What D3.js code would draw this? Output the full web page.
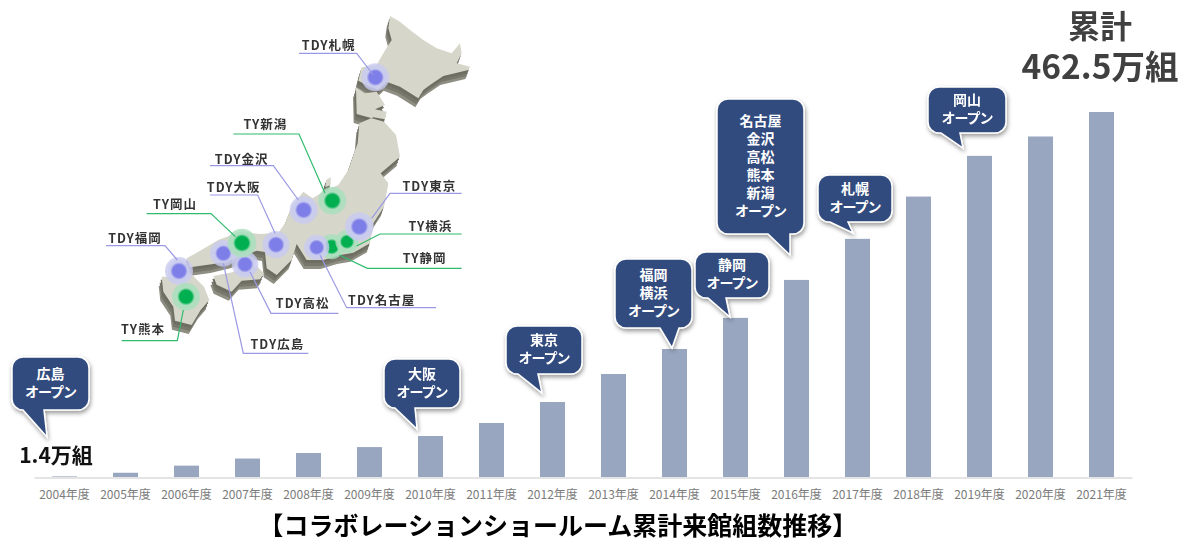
<!DOCTYPE html>
<html lang="ja">
<head>
<meta charset="utf-8">
<title>コラボレーションショールーム累計来館組数推移</title>
<script src="https://cdn.jsdelivr.net/npm/d3@7/dist/d3.min.js"></script>
<style>
    html, body { margin: 0; padding: 0; background: #fff; }
    svg { display: block; }
    text { font-family: "Noto Sans CJK JP", "Noto Sans", sans-serif; }
</style>
</head>
<body>
<svg id="chart" width="1186" height="539"></svg>
<script>
/* global d3 : false
 */

const years = ["2004年度", "2005年度", "2006年度", "2007年度", "2008年度", "2009年度", "2010年度", "2011年度", "2012年度",
    "2013年度", "2014年度", "2015年度", "2016年度", "2017年度", "2018年度", "2019年度", "2020年度", "2021年度"];
// cumulative visits, 万組
const visits = [1.4, 6, 15, 24, 31, 38.5, 52.5, 69, 95.5, 131, 162.6, 202, 250, 302, 355.5, 407, 431.5, 462.5];

const openings = [
    { year: "2004年度", lines: ["広島", "オープン"] },
    { year: "2010年度", lines: ["大阪", "オープン"] },
    { year: "2012年度", lines: ["東京", "オープン"] },
    { year: "2014年度", lines: ["福岡", "横浜", "オープン"] },
    { year: "2015年度", lines: ["静岡", "オープン"] },
    { year: "2016年度", lines: ["名古屋", "金沢", "高松", "熊本", "新潟", "オープン"] },
    { year: "2017年度", lines: ["札幌", "オープン"] },
    { year: "2019年度", lines: ["岡山", "オープン"] }
];

const stores = [
    { name: "TDY福岡", brand: "TDY" }, { name: "TY熊本", brand: "TY" }, { name: "TDY広島", brand: "TDY" },
    { name: "TDY高松", brand: "TDY" }, { name: "TY岡山", brand: "TY" }, { name: "TDY大阪", brand: "TDY" },
    { name: "TDY金沢", brand: "TDY" }, { name: "TY新潟", brand: "TY" }, { name: "TY静岡", brand: "TY" },
    { name: "TDY名古屋", brand: "TDY" }, { name: "TY横浜", brand: "TY" }, { name: "TDY東京", brand: "TDY" },
    { name: "TDY札幌", brand: "TDY" }
];

// callout boxes: box corners, tail base x's, tip
const calloutLayout = [
    { box: [12, 357, 89, 410], tail: [23, 44], tip: [47, 437] },
    { box: [384, 359, 460, 408], tail: [395, 415], tip: [417, 429] },
    { box: [506, 326, 582, 374], tail: [518, 538], tip: [542, 393] },
    { box: [615, 259, 692, 328], tail: [660, 679], tip: [672, 348] },
    { box: [695, 252, 769, 298], tail: [708, 726], tip: [730, 317] },
    { box: [717, 99, 804, 234], tail: [768, 790], tip: [790, 255] },
    { box: [818, 175, 892, 222], tail: [830, 848], tip: [853, 233] },
    { box: [928, 87, 1006, 133], tail: [941, 960], tip: [963, 148] }
];

// map geometry is in its own units (3 per page pixel)
const mapShapes = [
    [[900, 18], [930, 35], [960, 60], [1000, 90], [1040, 115], [1085, 130], [1110, 100], [1115, 130], [1100, 160], [1140, 170],
        [1135, 180], [1060, 198], [1020, 225], [1000, 240], [985, 265], [930, 230], [890, 215], [865, 240], [830, 225], [805, 212],
        [815, 172], [860, 165], [880, 130], [905, 90], [895, 55]],
    [[798, 232], [825, 250], [860, 245], [885, 285], [855, 298], [890, 305], [885, 328], [850, 322], [808, 340], [803, 400],
        [792, 430], [775, 480], [745, 525], [700, 545], [668, 565], [640, 545], [605, 590], [585, 640], [565, 668], [510, 672],
        [450, 665], [385, 690], [320, 728], [290, 745], [300, 772], [370, 762], [430, 748], [500, 722], [525, 726], [530, 775],
        [560, 795], [605, 750], [620, 702], [650, 750], [700, 750], [750, 735], [790, 728], [840, 700], [850, 640], [882, 590],
        [895, 520], [872, 490], [930, 440], [918, 375], [882, 335], [835, 322], [800, 312]],
    [[370, 798], [420, 788], [500, 768], [522, 790], [510, 808], [455, 812], [425, 845], [380, 824]],
    [[215, 800], [262, 800], [300, 788], [342, 830], [358, 870], [332, 900], [305, 945], [255, 932], [250, 890], [220, 845]],
    [[708, 510], [722, 502], [722, 525], [706, 532]]
];
const mapDots = [[267, 783, 42], [288, 860, 42], [400, 730, 40], [465, 763, 40], [456, 699, 43], [558, 704, 41],
    [641, 600, 42], [727, 572, 42], [725, 710, 38], [680, 712, 38], [771, 695, 35], [808, 650, 43], [856, 202, 42]];
const mapLeaders = [
    [[48, 707], [225, 707], [262, 750]], [[95, 992], [262, 992], [280, 900]], [[655, 1030], [460, 1030], [400, 760]],
    [[745, 910], [543, 910], [480, 785]], [[170, 611], [363, 611], [436, 680]], [[360, 555], [503, 555], [555, 670]],
    [[360, 467], [550, 467], [625, 570]], [[430, 372], [627, 372], [705, 550]], [[1115, 775], [832, 775], [748, 735]],
    [[1038, 893], [770, 893], [690, 735]], [[1115, 672], [870, 672], [800, 708]], [[1115, 550], [900, 550], [845, 625]],
    [[627, 130], [800, 130], [850, 195]]
];
const mapLabels = [[135, 684], [159, 958], [562, 1003], [638, 880], [255, 582], [431, 533], [455, 447], [526, 342],
    [1004, 745], [875, 870], [1021, 648], [1018, 528], [716, 106]];

const colors = { bar: "#98a6bf", axis: "#e4e4e4", tick: "#7b7b7b", callout: "#324c7e", land: "#d6d6ca" };
const sideColors = ["#8e8e82", "#77776c", "#6d6d62"];
const brandColors = {
    TDY: { core: "#7e7ee8", ring: "#c9cbef", line: "#9a9ae4" },
    TY: { core: "#00b050", ring: "#aadfbd", line: "#2fbb6c" }
};

const svg = d3.select("#chart");
const baseline = 477.5;

const x = d3.scaleBand().domain(years).range([34, 1132]).paddingInner(0.59).paddingOuter(0.295);
const y = d3.scaleLinear().domain([0, 462.5]).range([baseline, 112]);

const defs = svg.append("defs");
defs.append("filter").attr("id", "shadow")
    .attr("x", "-20%").attr("y", "-20%").attr("width", "140%").attr("height", "140%")
    .append("feDropShadow")
    .attr("dx", 1).attr("dy", 2.5).attr("stdDeviation", 2).attr("flood-color", "#000").attr("flood-opacity", 0.4);
defs.append("filter").attr("id", "soft")
    .append("feGaussianBlur").attr("stdDeviation", 0.5);
Object.entries(brandColors).forEach(([brand, c]) => {
    const grad = defs.append("radialGradient").attr("id", `glow-${brand}`);
    grad.append("stop").attr("offset", "45%").attr("stop-color", c.core);
    grad.append("stop").attr("offset", "62%").attr("stop-color", c.ring);
    grad.append("stop").attr("offset", "100%").attr("stop-color", c.ring).attr("stop-opacity", 0.75);
});

// bars
svg.append("g").selectAll("rect")
    .data(years)
    .join("rect")
    .attr("x", d => x(d))
    .attr("y", (d, i) => y(visits[i]))
    .attr("width", x.bandwidth())
    .attr("height", (d, i) => baseline - y(visits[i]))
    .attr("fill", colors.bar);

// axis
const axis = svg.append("g")
    .attr("transform", `translate(0,${baseline})`)
    .call(d3.axisBottom(x).tickSize(0).tickPadding(13));
axis.select(".domain").attr("stroke", colors.axis).attr("stroke-width", 2);
axis.selectAll("text").attr("fill", colors.tick).style("font-size", "12px").style("font-family", null);

// map
const mapX = d3.scaleLinear().domain([0, 3]).range([90, 91]);
const mapY = d3.scaleLinear().domain([0, 3]).range([10, 11]);
const mapLine = d3.line().x(d => mapX(d[0])).y(d => mapY(d[1]));
const map = svg.append("g");
const land = map.append("g").attr("filter", "url(#soft)");

// side faces are the outlines pushed down, furthest first
[[-3, 9], [-2, 6], [-1, 3]].forEach(([dx, dy], i) => {
    land.append("g").selectAll("path")
        .data(mapShapes)
        .join("path")
        .attr("d", d => mapLine(d) + "Z")
        .attr("transform", `translate(${dx},${dy})`)
        .attr("fill", sideColors[i]);
});
land.append("g").selectAll("path")
    .data(mapShapes)
    .join("path")
    .attr("d", d => mapLine(d) + "Z")
    .attr("fill", colors.land);

map.append("g").selectAll("circle")
    .data(stores)
    .join("circle")
    .attr("cx", (d, i) => mapX(mapDots[i][0]))
    .attr("cy", (d, i) => mapY(mapDots[i][1]))
    .attr("r", (d, i) => mapDots[i][2] / 3)
    .attr("fill", d => `url(#glow-${d.brand})`);

map.append("g").selectAll("path")
    .data(stores)
    .join("path")
    .attr("d", (d, i) => mapLine(mapLeaders[i]))
    .attr("fill", "none")
    .attr("stroke", d => brandColors[d.brand].line)
    .attr("stroke-width", 1.2);

map.append("g").selectAll("text")
    .data(stores)
    .join("text")
    .attr("x", (d, i) => mapX(mapLabels[i][0]))
    .attr("y", (d, i) => mapY(mapLabels[i][1]))
    .attr("dy", "0.36em")
    .attr("text-anchor", "middle")
    .attr("fill", "#333")
    .style("font-size", "12.5px")
    .style("font-weight", 700)
    .style("letter-spacing", "1px")
    .text(d => d.name);

// callouts
function calloutPath({ box: [x0, y0, x1, y1], tail: [a, b], tip: [tx, ty] }) {
    const r = 11;
    const p = d3.path();
    p.moveTo(x0 + r, y0);
    p.arcTo(x1, y0, x1, y0 + r, r);
    p.arcTo(x1, y1, x1 - r, y1, r);
    p.lineTo(b, y1);
    p.lineTo(tx, ty);
    p.lineTo(a, y1);
    p.arcTo(x0, y1, x0, y1 - r, r);
    p.arcTo(x0, y0, x0 + r, y0, r);
    p.closePath();
    return p.toString();
}

const callouts = svg.append("g").selectAll("g")
    .data(openings)
    .join("g");

callouts.append("path")
    .attr("d", (d, i) => calloutPath(calloutLayout[i]))
    .attr("fill", colors.callout)
    .attr("stroke", "#fff")
    .attr("stroke-width", 1.5)
    .attr("filter", "url(#shadow)");

callouts.each(function (d, i) {
    const { box } = calloutLayout[i];
    const lineHeight = 18;
    const cx = (box[0] + box[2]) / 2;
    const cy = (box[1] + box[3]) / 2;
    d3.select(this).selectAll("text")
        .data(d.lines)
        .join("text")
        .attr("x", cx)
        .attr("y", (t, j) => cy + (j - (d.lines.length - 1) / 2) * lineHeight - 1)
        .attr("dy", "0.36em")
        .attr("text-anchor", "middle")
        .attr("fill", "#fff")
        .style("font-size", "14px")
        .style("font-weight", 700)
        .style("letter-spacing", t => (t === "オープン" ? "-1px" : "0"))
        .text(t => t);
});

// annotations
svg.append("text").attr("x", 1100).attr("y", 38)
    .attr("text-anchor", "middle").attr("fill", "#404040")
    .style("font-size", "32px").style("font-weight", 700).text("累計");
svg.append("text").attr("x", 1100).attr("y", 79)
    .attr("text-anchor", "middle").attr("fill", "#404040")
    .style("font-size", "33.5px").style("font-weight", 700).text("462.5万組");
svg.append("text").attr("x", 56).attr("y", 463)
    .attr("text-anchor", "middle").attr("fill", "#111")
    .style("font-size", "21px").style("font-weight", 700).text("1.4万組");
svg.append("text").attr("x", 558).attr("y", 535)
    .attr("text-anchor", "middle").attr("fill", "#000")
    .style("font-size", "25px").style("font-weight", 700).text("【コラボレーションショールーム累計来館組数推移】");
</script>
</body>
</html>
